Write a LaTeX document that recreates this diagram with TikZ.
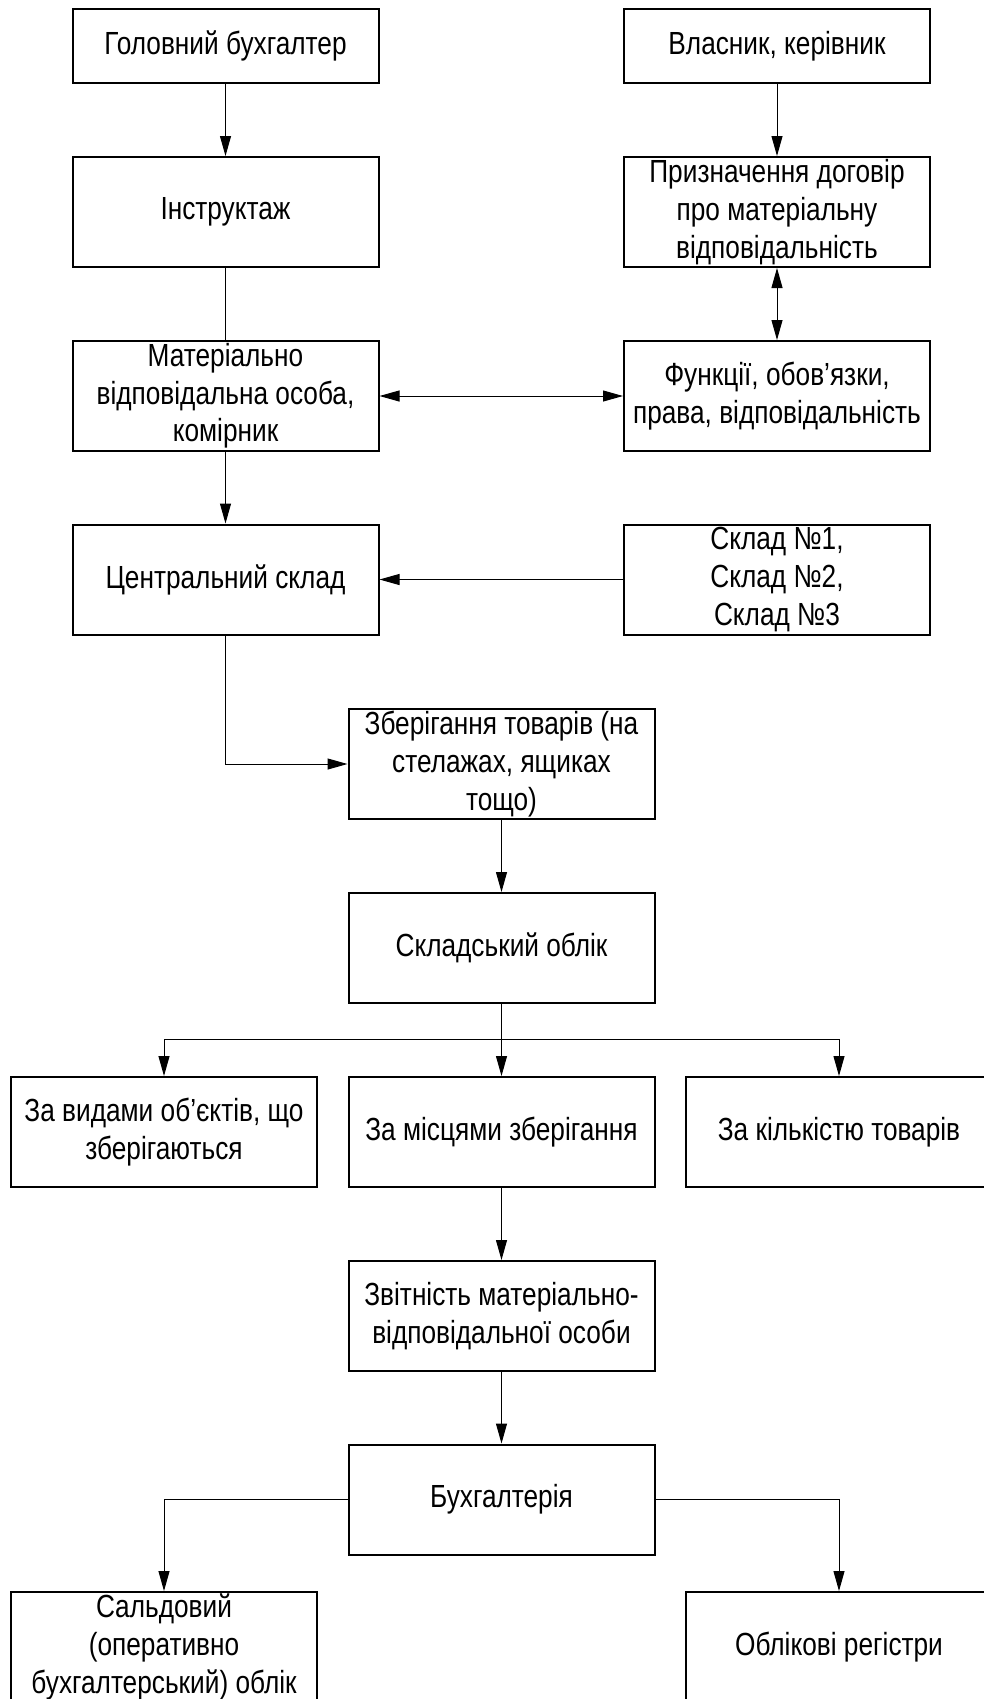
\documentclass[tikz,border=0pt]{standalone}
\usepackage{fontspec}
\setmainfont{Liberation Sans}[FakeStretch=0.82]
\usepackage{tikz}
\usetikzlibrary{arrows.meta}

\begin{document}
\begin{tikzpicture}[x=0.5pt, y=-0.5pt,
    blok/.style={draw, line width=1pt, minimum width=153pt, minimum height=55pt,
      inner sep=0pt, align=center, font=\fontsize{16}{18.8}\selectfont},
    nyzkyi/.style={blok, minimum height=37pt},
    arr/.style={-{Triangle[length=10pt,width=5.5pt]}, line width=0.5pt},
    dvoarr/.style={{Triangle[length=10pt,width=5.5pt]}-{Triangle[length=10pt,width=5.5pt]}, line width=0.5pt},
    zvyk/.style={line width=0.5pt}]
  \path[use as bounding box, clip] (0,0) rectangle (984,1699);

  % Top rows
  \node[nyzkyi] (glav) at (225.5,46) {Головний бухгалтер};
  \node[nyzkyi] (vlasnyk) at (777,46) {Власник, керівник};
  \node[blok] (instr) at (225.5,212) {Інструктаж};
  \node[blok] (pryzn) at (777,212) {Призначення договір\\про матеріальну\\відповідальність};
  \node[blok] (mvo) at (225.5,396) {Матеріально\\відповідальна особа,\\комірник};
  \node[blok] (funk) at (777,396) {Функції, обов’язки,\\права, відповідальність};
  \node[blok] (centr) at (225.5,579.5) {Центральний склад};
  \node[blok] (sklady) at (777,579.5) {Склад №1,\\Склад №2,\\Склад №3};

  % Middle column
  \node[blok] (zberig) at (501.5,764) {Зберігання товарів (на\\стелажах, ящиках\\тощо)};
  \node[blok] (oblik) at (501.5,948) {Складський облік};
  \node[blok] (vydy) at (164,1132) {За видами об’єктів, що\\зберігаються};
  \node[blok] (mistsia) at (501.5,1132) {За місцями зберігання};
  \node[blok] (kilkist) at (839,1132) {За кількістю товарів};
  \node[blok] (zvit) at (501.5,1316) {Звітність матеріально-\\відповідальної особи};
  \node[blok] (buh) at (501.5,1499.5) {Бухгалтерія};
  \node[blok] (saldo) at (164,1647) {Сальдовий\\(оперативно\\бухгалтерський) облік};
  \node[blok] (registry) at (839,1647) {Облікові регістри};

  % Branch point under the warehouse accounting
  \coordinate (rozg) at (501.5,1039);

  % Connections
  \draw[arr] (glav) -- (instr);
  \draw[arr] (vlasnyk) -- (pryzn);
  \draw[zvyk] (instr) -- (mvo);
  \draw[dvoarr] (pryzn) -- (funk);
  \draw[dvoarr] (mvo) -- (funk);
  \draw[arr] (mvo) -- (centr);
  \draw[arr] (sklady) -- (centr);
  \draw[arr] (centr) |- (zberig);
  \draw[arr] (zberig) -- (oblik);
  \draw[zvyk] (oblik) -- (rozg);
  \draw[arr] (rozg) -| (vydy);
  \draw[arr] (rozg) -- (mistsia);
  \draw[arr] (rozg) -| (kilkist);
  \draw[arr] (mistsia) -- (zvit);
  \draw[arr] (zvit) -- (buh);
  \draw[arr] (buh) -| (saldo);
  \draw[arr] (buh) -| (registry);
\end{tikzpicture}
\end{document}
